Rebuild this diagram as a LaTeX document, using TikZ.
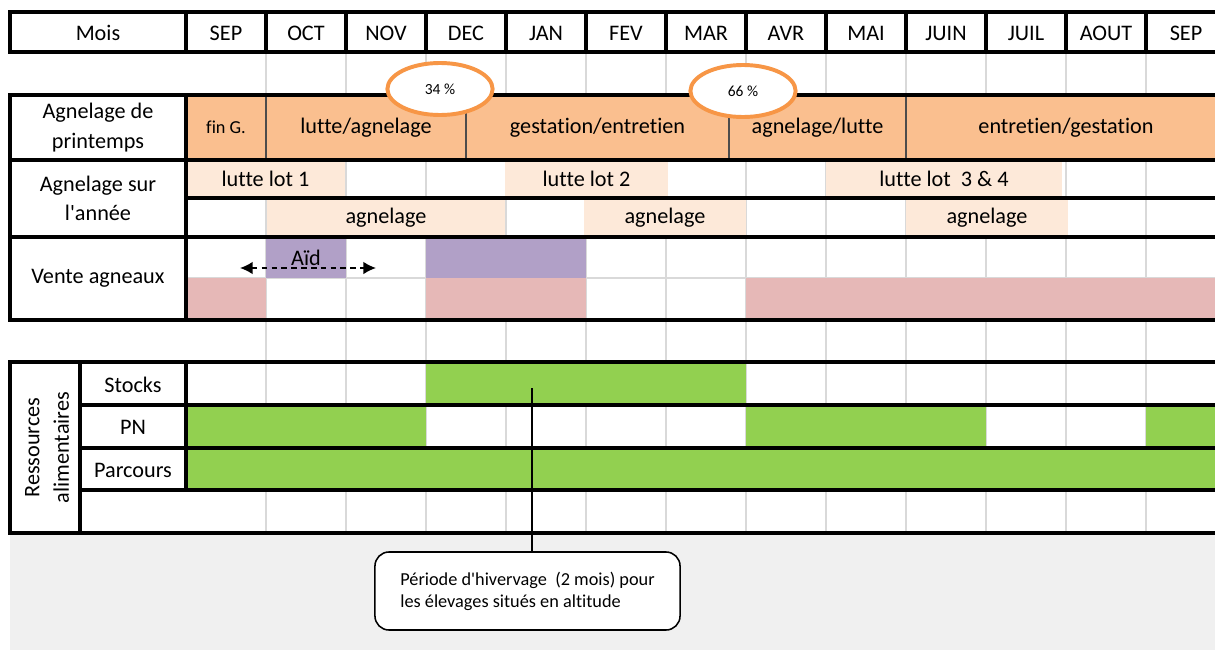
\documentclass[tikz,border=0pt]{standalone}
\usepackage{fontspec}
\setmainfont{Carlito}[Ligatures={CommonOff}]
\usetikzlibrary{positioning, arrows.meta, shapes.geometric}

\definecolor{orangefill}{HTML}{FABF8F}
\definecolor{peach}{HTML}{FDE9D9}
\definecolor{lilas}{HTML}{B1A0C7}
\definecolor{rose}{HTML}{E6B8B7}
\definecolor{vert}{HTML}{92D050}
\definecolor{gridgrey}{HTML}{D9D9D9}
\definecolor{fond}{HTML}{F0F0F0}
\definecolor{orangeovale}{HTML}{F79646}

\begin{document}
\begin{tikzpicture}[x=0.025cm, y=-0.025cm,
        every node/.style={font=\fontsize{15.8}{21}\selectfont},
        bloc/.style 2 args={anchor=north west, minimum width=#1*0.025cm, minimum height=#2*0.025cm, inner sep=0pt, outer sep=0pt},
        saison/.style={fill=orangefill, draw=black!70, line width=0.8pt},
        cadre/.style={line width=2.8pt},
        grille/.style={draw=gridgrey, line width=1.2pt},
        ovale/.style={ellipse, draw=orangeovale, line width=2.8pt, fill=white, minimum width=2.63cm, minimum height=1.3cm, inner sep=0pt, font=\fontsize{11}{13}\selectfont},
        aidfleche/.style={{Latex[length=9pt, width=9pt]}-{Latex[length=9pt, width=9pt]}, line width=1.2pt, dash pattern=on 4pt off 3pt},
        bulle/.style={draw, line width=1.1pt, rounded corners=10pt, fill=white, align=left, font=\fontsize{13}{15.6}\selectfont}]

    \useasboundingbox (0,0) rectangle (1215,650);
    \clip (0,0) rectangle (1215,650);
    \fill[fond] (10,533) rectangle (1215,650);

    \foreach \i in {1,...,13}
        \draw[grille] ({186+80*\i},12) -- ({186+80*\i},533);
    \draw[grille] (186,278) -- (1226,278);

    % mois
    \node[bloc={176}{40}] (mois) at (10,13) {Mois};
    \foreach \m [count=\i from 0] in {SEP,OCT,NOV,DEC,JAN,FEV,MAR,AVR,MAI,JUIN,JUIL,AOUT,SEP}
        \node[bloc={80}{40}] (m\i) at ({186+80*\i},13) {\m};

    % agnelage de printemps
    \node[bloc={176}{65}, align=center] (printemps) at (10,95) {Agnelage de\\printemps};
    \node[bloc={80}{65}, saison, font=\fontsize{13}{15}\selectfont] (finG) at (186,95) {fin G.};
    \node[bloc={200}{65}, saison] (lagn) at (266,95) {lutte/agnelage};
    \node[bloc={263}{65}, saison] (gest) at (466,95) {gestation/entretien};
    \node[bloc={177}{65}, saison] (agnl) at (729,95) {agnelage/lutte};
    \node[bloc={320}{65}, saison] (entr) at (906,95) {entretien/gestation};

    % agnelage sur l'annee
    \node[bloc={176}{77}, align=center] (surannee) at (10,160) {Agnelage sur\\l\textquotesingle année};
    \node[bloc={159}{38}, fill=peach] (lot1) at (186,160) {lutte lot 1};
    \node[bloc={163}{38}, fill=peach] (lot2) at (505,160) {lutte lot 2};
    \node[bloc={236}{38}, fill=peach] (lot34) at (826,160) {lutte lot~ 3 \& 4};
    \node[bloc={238}{39}, fill=peach] (agn1) at (267,198) {agnelage};
    \node[bloc={162}{39}, fill=peach] (agn2) at (584,198) {agnelage};
    \node[bloc={162}{39}, fill=peach] (agn3) at (906,198) {agnelage};

    % vente agneaux
    \node[bloc={176}{83}] (vente) at (10,237) {Vente agneaux};
    \node[bloc={80}{41}, fill=lilas] (aid) at (266,237) {Aïd};
    \node[bloc={160}{41}, fill=lilas] (fetes) at (426,237) {};
    \node[bloc={80}{42}, fill=rose] (vsep) at (186,278) {};
    \node[bloc={160}{42}, fill=rose] (vdec) at (426,278) {};
    \node[bloc={480}{42}, fill=rose] (vavr) at (746,278) {};
    \coordinate (aidL) at (240,268);
    \coordinate (aidR) at (376,268);
    \draw[aidfleche] (aidL) -- (aidR);

    % ressources alimentaires
    \node[rotate=90, align=center] (ress) at (47,447.5) {Ressources\\alimentaires};
    \node[bloc={106}{43}] (stocks) at (80,363) {Stocks};
    \node[bloc={106}{43}] (pn) at (80,406) {PN};
    \node[bloc={106}{42}] (parcours) at (80,449) {Parcours};
    \node[bloc={320}{43}, fill=vert] (vstocks) at (426,362) {};
    \node[bloc={240}{43}, fill=vert] (vpn1) at (186,405) {};
    \node[bloc={240}{43}, fill=vert] (vpn2) at (746,405) {};
    \node[bloc={80}{43}, fill=vert] (vpn3) at (1146,405) {};
    \node[bloc={1040}{42}, fill=vert] (vparc) at (186,448) {};

    % traits epais
    \draw[cadre] (10,12) rectangle (1226,52);
    \foreach \i in {0,...,12}
        \draw[cadre] ({186+80*\i},12) -- ({186+80*\i},52);
    \draw[cadre] (10,95) rectangle (1226,320);
    \draw[cadre] (10,160) -- (1226,160);
    \draw[cadre] (10,237) -- (1226,237);
    \draw[cadre] (186,198) -- (1226,198);
    \draw[cadre] (186,95) -- (186,320);
    \draw[cadre] (10,362) rectangle (1226,533);
    \draw[cadre] (80,362) -- (80,533);
    \draw[cadre] (186,362) -- (186,490);
    \foreach \y in {405,448,490}
        \draw[cadre] (80,\y) -- (1226,\y);

    \node[ovale] (p34) at (440,89) {34 \%};
    \node[ovale] (p66) at (743,91) {66 \%};

    \node[bulle, minimum width=7.625cm, minimum height=1.95cm] (hiver) at (527.5,591) {Période d\textquotesingle hivervage\ \ (2 mois) pour\\les élevages situés en altitude};
    \coordinate (hivpt) at (532,388);
    \draw[line width=1pt] (hivpt) -- (hivpt |- hiver.north);

\end{tikzpicture}
\end{document}
